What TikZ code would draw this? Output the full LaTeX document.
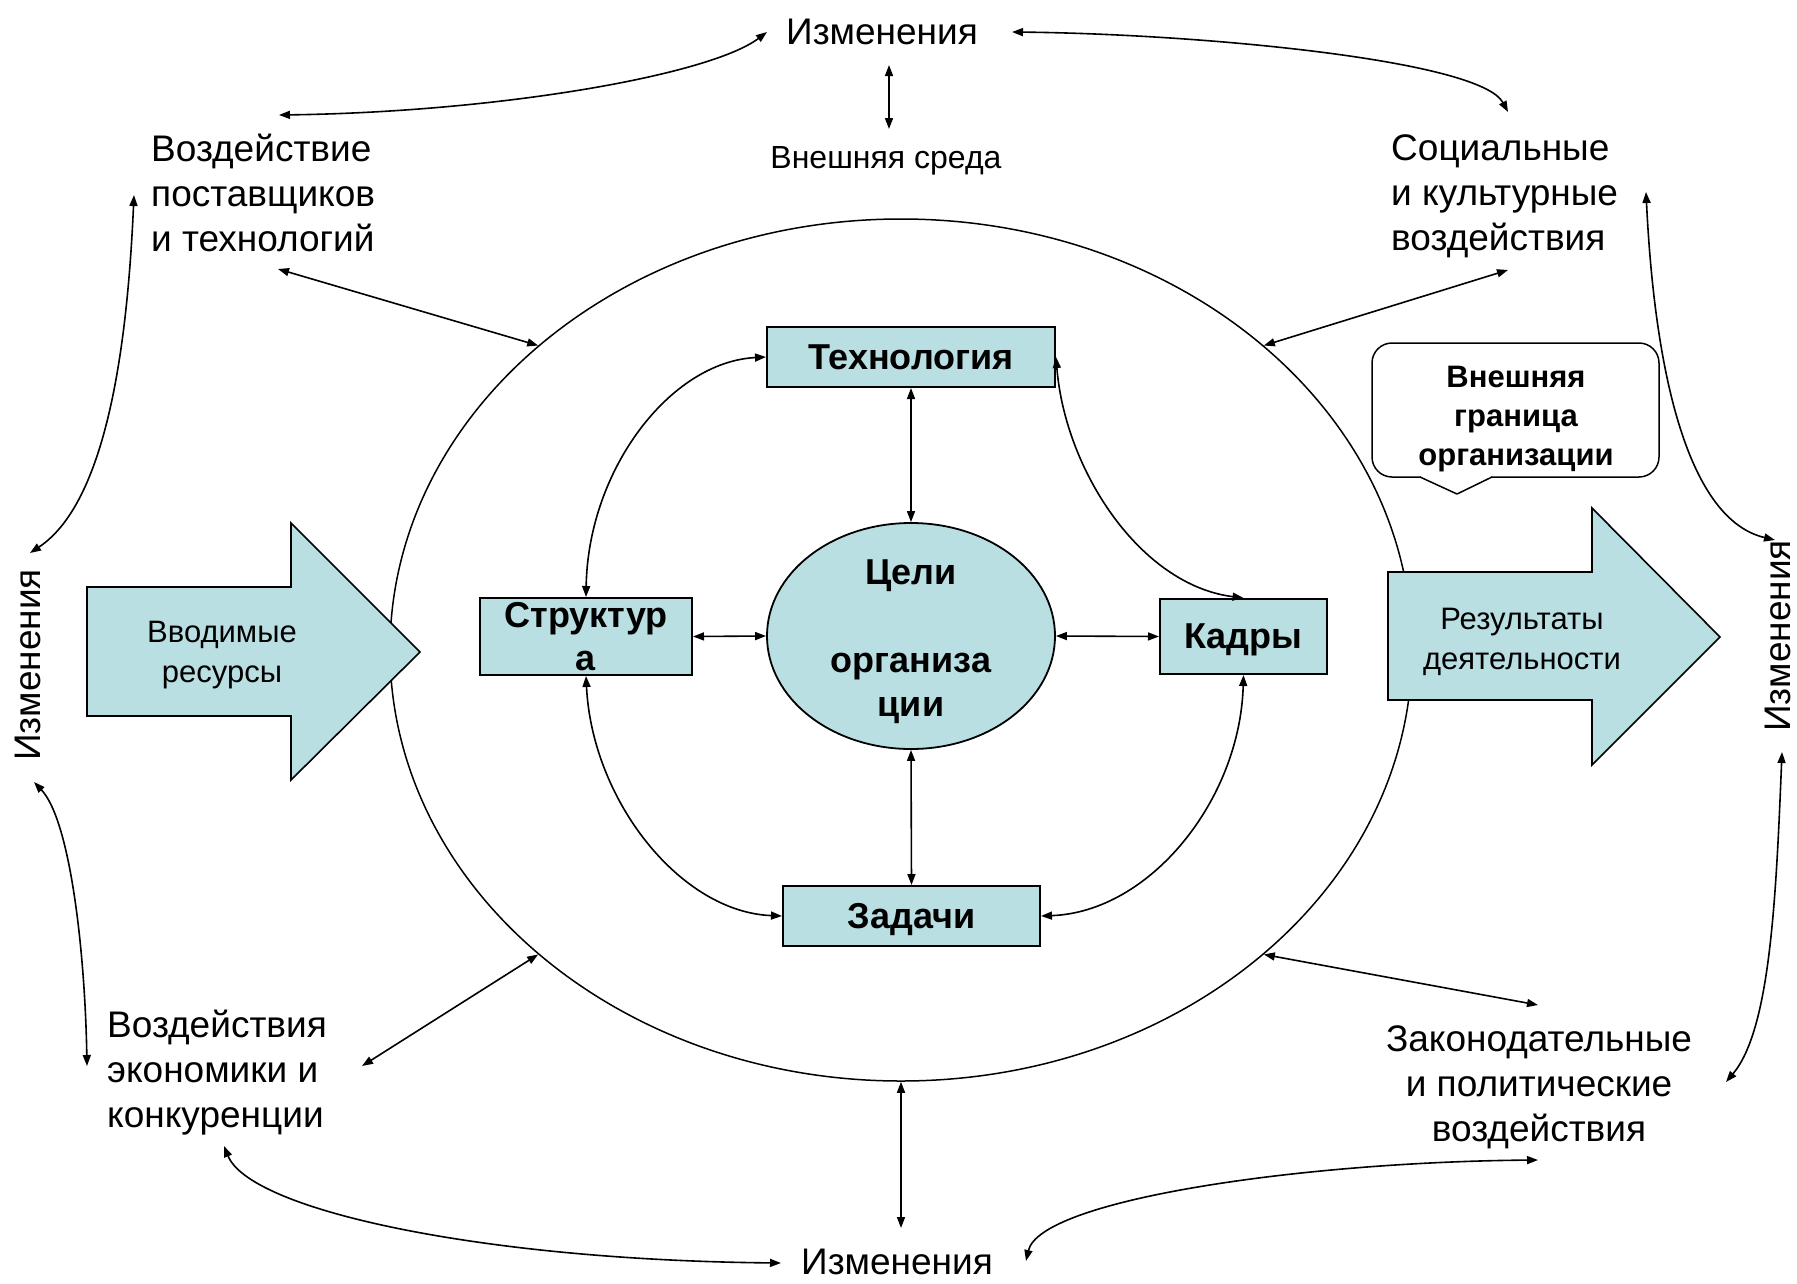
\documentclass[tikz,border=0pt]{standalone}
\usepackage{fontspec}
\setmainfont{Liberation Sans}
\usetikzlibrary{arrows.meta,shapes.geometric}
\definecolor{boxfill}{HTML}{B9DFE2}
\tikzset{
  lbl/.style={font=\fontsize{37}{45}\selectfont, inner sep=0pt},
  smalllbl/.style={font=\fontsize{31}{40}\selectfont, inner sep=0pt, align=center},
  box/.style={draw, line width=2pt, fill=boxfill, inner sep=0pt, align=center, text depth=0pt,
    font=\bfseries\fontsize{36}{43}\selectfont},
  blockarrow/.style={draw, line width=1.6pt, fill=boxfill, line join=miter},
  conn/.style={line width=1.6pt, <->, >={Triangle[length=11pt,width=8pt]}},
}
\begin{document}
\begin{tikzpicture}[x=1pt,y=1pt]
\useasboundingbox (0,0) rectangle (1797,-1283);

% outer boundary of the organisation
\node[draw, ellipse, line width=1.5pt, minimum width=1022pt, minimum height=862pt, inner sep=0pt] (outer) at (901,-650) {};

% block arrows
\draw[blockarrow] (87,-587) -- (291,-587) -- (291,-523) -- (420,-652) -- (291,-780) -- (291,-716) -- (87,-716) -- cycle;
\node[smalllbl] (inres) at (222,-655) {Вводимые\\ресурсы};
\draw[blockarrow] (1388,-572) -- (1592,-572) -- (1592,-508) -- (1720,-637) -- (1592,-765) -- (1592,-700) -- (1388,-700) -- cycle;
\node[smalllbl] (outres) at (1522,-642) {Результаты\\деятельности};

% callout
\draw[line width=1.5pt, rounded corners=20pt] (1372,-343) rectangle (1659,-477);
\fill[white] (1421,-474) rectangle (1491,-480);
\draw[line width=1.5pt, line join=round] (1420,-477) -- (1457,-494) -- (1492,-477);
\node[font=\bfseries\fontsize{31}{39}\selectfont, align=center, inner sep=0pt] (bubble) at (1516,-419) {Внешняя\\граница\\организации};

% inner elements
\node[box, minimum width=288pt, minimum height=60pt] (tech) at (911,-357) {Технология};
\node[box, minimum width=212pt, minimum height=77pt] (struct) at (586,-636.5) {Структур\\а};
\node[box, minimum width=167pt, minimum height=75pt] (kadry) at (1243.5,-636.5) {Кадры};
\node[box, minimum width=257pt, minimum height=60pt] (tasks) at (911.5,-916) {Задачи};
\node[draw, ellipse, line width=1.8pt, fill=boxfill, minimum width=288pt, minimum height=226pt,
  inner sep=0pt] (goal) at (911,-636) {};
\node[align=center, inner sep=0pt, font=\bfseries\fontsize{36}{44}\selectfont] (goaltext) at (911,-642)
  {Цели\\\mbox{}\\организа\\ции};

% outer labels
\node[lbl] (topIzm) at (882,-32) {Изменения};
\node[font=\fontsize{32}{38}\selectfont, inner sep=0pt] (sreda) at (886,-161) {Внешняя среда};
\node[lbl, align=left, anchor=west] (postav) at (151,-193) {Воздействие\\поставщиков\\и технологий};
\node[lbl, align=left, anchor=west] (social) at (1391,-196) {Социальные\\и культурные\\воздействия};
\node[lbl, align=left, anchor=west] (ekonom) at (107,-1073) {Воздействия\\экономики и\\конкуренции};
\node[lbl, align=center] (zakon) at (1539,-1087) {Законодательные\\и политические\\воздействия};
\node[lbl] (botIzm) at (897,-1262) {Изменения};
\node[lbl, rotate=90] (leftIzm) at (28,-665) {Изменения};
\node[lbl, rotate=90] (rightIzm) at (1778,-636) {Изменения};

% connector end points
\coordinate (topIzmW) at (767,-32);
\coordinate (topIzmE) at (1012,-32);
\coordinate (topIzmS) at (889,-65);
\coordinate (sredaN) at (889,-129);
\coordinate (postavN) at (279,-115);
\coordinate (postavS) at (278,-269);
\coordinate (postavW) at (134,-195);
\coordinate (socialN) at (1508,-112);
\coordinate (socialS) at (1508,-270);
\coordinate (socialE) at (1646,-192);
\coordinate (leftIzmN) at (30,-553);
\coordinate (leftIzmS) at (34,-782);
\coordinate (rightIzmN) at (1775,-540);
\coordinate (rightIzmS) at (1782,-752);
\coordinate (ekonomW) at (87,-1066);
\coordinate (ekonomE) at (362,-1066);
\coordinate (ekonomS) at (224,-1146);
\coordinate (zakonN) at (1538,-1005);
\coordinate (zakonE) at (1726,-1082);
\coordinate (zakonS) at (1538,-1160);
\coordinate (botIzmW) at (781,-1263);
\coordinate (botIzmE) at (1026,-1261);
\coordinate (botIzmN) at (901,-1228);

% outer connectors
\draw[conn] (postavN) .. controls (500,-112) and (710,-75) .. (topIzmW);
\draw[conn] (topIzmE) .. controls (1200,-34) and (1480,-60) .. (socialN);
\draw[conn] (topIzmS) -- (sredaN);
\draw[conn] (postavS) -- (outer.140);
\draw[conn] (socialS) -- (outer.40);
\draw[conn] (postavW) .. controls (128,-330) and (110,-500) .. (leftIzmN);
\draw[conn] (socialE) .. controls (1655,-380) and (1690,-520) .. (rightIzmN);
\draw[conn] (leftIzmS) .. controls (70,-820) and (85,-950) .. (ekonomW);
\draw[conn] (rightIzmS) .. controls (1776,-900) and (1770,-1030) .. (zakonE);
\draw[conn] (ekonomE) -- (outer.220);
\draw[conn] (zakonN) -- (outer.320);
\draw[conn] (ekonomS) .. controls (250,-1210) and (480,-1260) .. (botIzmW);
\draw[conn] (botIzmE) .. controls (1040,-1200) and (1300,-1162) .. (zakonS);
\draw[conn] (outer.south) -- (botIzmN);

% inner connectors
\draw[conn] (tech.south) -- (goal.north);
\draw[conn] (goal.south) -- (tasks.north);
\draw[conn] (struct.east) -- (goal.west);
\draw[conn] (goal.east) -- (kadry.west);
\draw[conn] (struct.north) .. controls (588,-470) and (670,-362) .. (tech.west);
\draw[conn] (tech.east) .. controls (1065,-470) and (1140,-585) .. (kadry.north);
\draw[conn] (struct.south) .. controls (592,-800) and (680,-912) .. (tasks.west);
\draw[conn] (kadry.south) .. controls (1240,-800) and (1150,-912) .. (tasks.east);
\end{tikzpicture}
\end{document}
